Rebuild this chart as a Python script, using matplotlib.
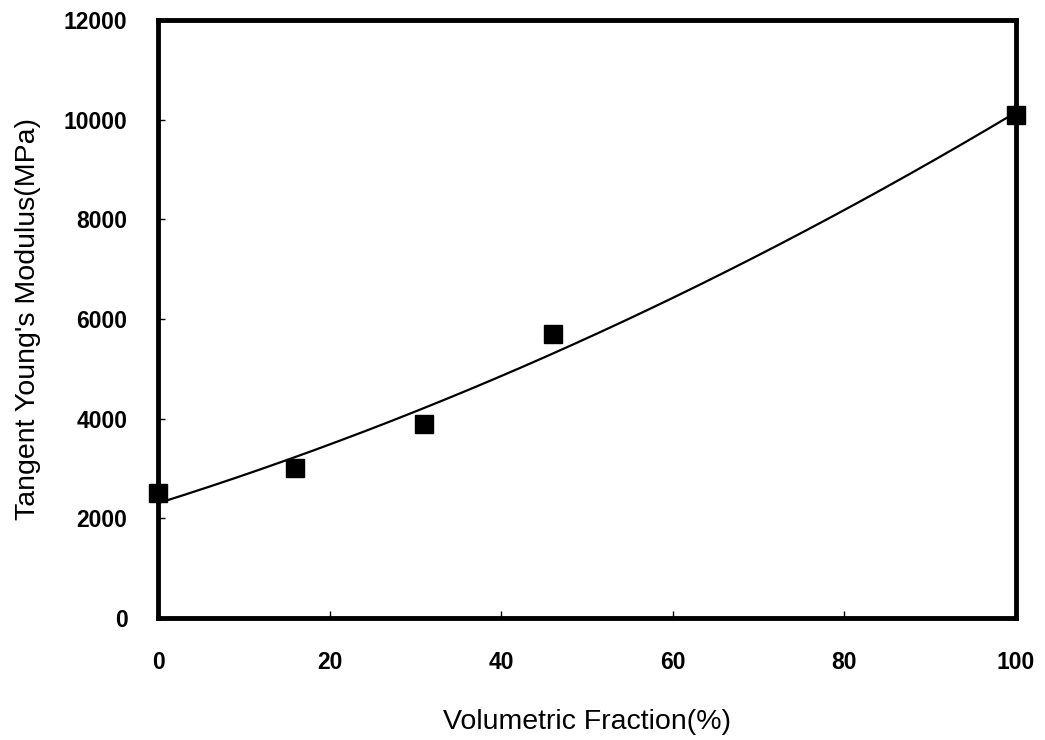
import numpy as np
import matplotlib.pyplot as plt

# measured points
vol_fraction = [0, 16, 31, 46, 100]
tangent_modulus = [2500, 3000, 3900, 5700, 10100]

x_ticks = [0, 20, 40, 60, 80, 100]
y_ticks = [0, 2000, 4000, 6000, 8000, 10000, 12000]

plt.rcParams['font.family'] = ['Liberation Sans', 'DejaVu Sans']

fig = plt.figure(figsize=(10.45, 7.4), dpi=100)
ax = fig.add_axes([0.1512, 0.1649, 0.821, 0.808])

# second order trendline through the measured points
coef = np.polyfit(vol_fraction, tangent_modulus, 2)
xs = np.linspace(0, 100, 200)
ax.plot(xs, np.polyval(coef, xs), color='black', linewidth=1.6, zorder=2)

ax.plot(vol_fraction, tangent_modulus, linestyle='none', marker='s',
        markersize=13, color='black', clip_on=False, zorder=3)

ax.set_xlim(0, 100)
ax.set_ylim(0, 12000)
ax.set_xticks(x_ticks)
ax.set_yticks(y_ticks)
ax.tick_params(direction='in', length=5, width=1, labelsize=16.5)
ax.tick_params(axis='x', pad=24)
ax.tick_params(axis='y', pad=22)
for lbl in ax.get_xticklabels() + ax.get_yticklabels():
    lbl.set_fontweight('bold')
for sp in ax.spines.values():
    sp.set_linewidth(3.5)

ax.set_xlabel('Volumetric Fraction(%)', fontsize=20.5, labelpad=25)
ax.set_ylabel("Tangent Young's Modulus(MPa)", fontsize=20.5, labelpad=16)

fig.savefig('out.png', dpi=100)
